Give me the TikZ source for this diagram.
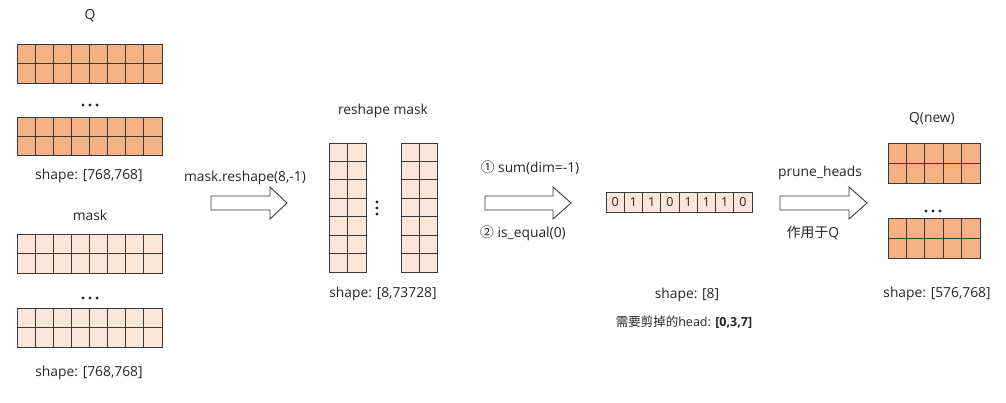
\documentclass[tikz,border=0pt]{standalone}
\usepackage{fontspec}
\setmainfont{Open Sans}
\newfontfamily\cjk{Noto Sans CJK SC}
\definecolor{qfill}{HTML}{F4B183}
\definecolor{mfill}{HTML}{FBE5D6}
\definecolor{lnc}{HTML}{3A3A3A}
\definecolor{txc}{HTML}{262626}

\tikzset{
  gridline/.style={draw=lnc, line width=0.9pt},
  arrowbox/.style={draw=lnc, line width=0.9pt, fill=white, line join=miter},
  lbl/.style={text=txc, font=\fontsize{13.8}{16}\selectfont, inner sep=0pt},
  small lbl/.style={text=txc, font=\fontsize{12.5}{14}\selectfont, inner sep=0pt},
  bit lbl/.style={text=txc, font=\fontsize{12.5}{14}\selectfont, inner sep=0pt},
  dot/.style={fill=txc}
}

% grid of cells: x0,y0,x1,y1,cols,rows,fill
\newcommand{\cellgrid}[7]{%
  \draw[gridline, fill=#7] (#1,#2) rectangle (#3,#4);
  \foreach \i [evaluate=\i as \xx using #1+(#3-#1)*\i/#5] in {1,...,#5}
    \draw[gridline] (\xx,#2) -- (\xx,#4);
  \foreach \j [evaluate=\j as \yy using #2+(#4-#2)*\j/#6] in {1,...,#6}
    \draw[gridline] (#1,\yy) -- (#3,\yy);
}
% block arrow: x start, x head, x tip, y middle
\newcommand{\blockarrow}[4]{%
  \draw[arrowbox] (#1,#4-7) -- (#2,#4-7) -- (#2,#4-16) -- (#3,#4)
    -- (#2,#4+16) -- (#2,#4+7) -- (#1,#4+7) -- cycle;
}

\begin{document}
\begin{tikzpicture}[x=1pt, y=-1pt]
  \useasboundingbox (0,0) rectangle (1006,402);

  % Q
  \node[lbl] (qlbl) at (90,16) {Q};
  \cellgrid{17}{44}{162}{83}{8}{2}{qfill}
  \foreach \d in {-7,0,7} \fill[dot] (90+\d,105) circle (1.7);
  \cellgrid{17}{117}{162}{155}{8}{2}{qfill}
  \node[lbl] (qshape) at (89,176) {shape: [768,768]};

  % mask
  \node[lbl] (mlbl) at (90,215) {mask};
  \cellgrid{17}{234}{162}{273}{8}{2}{mfill}
  \foreach \d in {-7,0,7} \fill[dot] (90+\d,298) circle (1.7);
  \cellgrid{17}{308}{162}{347}{8}{2}{mfill}
  \node[lbl] (mshape) at (89,373) {shape: [768,768]};

  % reshape
  \node[lbl] (reslbl) at (245,178) {mask.reshape(8,-1)};
  \blockarrow{211}{270}{287}{203}
  \node[lbl] (rmlbl) at (383,111) {reshape mask};
  \cellgrid{329}{143}{366}{272}{2}{7}{mfill}
  \foreach \d in {-6,0,6} \fill[dot] (377,208+\d) circle (1.6);
  \cellgrid{401}{143}{437}{272}{2}{7}{mfill}
  \node[lbl] (rshape) at (383,294) {shape: [8,73728]};

  % sum / is_equal
  \node[lbl] (sumlbl) at (530,168) {{\cjk ①} sum(dim=-1)};
  \blockarrow{485}{553}{571}{203}
  \node[lbl] (eqlbl) at (523,233) {{\cjk ②} is\_equal(0)};
  \draw[gridline, fill=mfill] (606,192) rectangle (752,212);
  \foreach \v [count=\k] in {0,1,1,0,1,1,1,0} {
    \draw[gridline] (606+18.25*\k,192) -- (606+18.25*\k,212);
    \node[bit lbl] (bit\k) at (606+18.25*\k-9.1,202) {\v};
  }
  \node[lbl] (vshape) at (687,295) {shape: [8]};
  \node[small lbl] (cut) at (684,322) {{\cjk 需要剪掉的}head: \textbf{[0,3,7]}};

  % prune
  \node[lbl] (prlbl) at (820,173) {prune\_heads};
  \blockarrow{780}{849}{867}{203}
  \node[lbl] (aplbl) at (813,233) {{\cjk 作用于}Q};
  \node[lbl] (qnlbl) at (932,119) {Q(new)};
  \cellgrid{888}{143}{980}{183}{5}{2}{qfill}
  \foreach \d in {-7,0,7} \fill[dot] (933+\d,211) circle (1.7);
  \cellgrid{888}{218}{980}{258}{5}{2}{qfill}
  \node[lbl] (nshape) at (937,294) {shape: [576,768]};
\end{tikzpicture}
\end{document}
